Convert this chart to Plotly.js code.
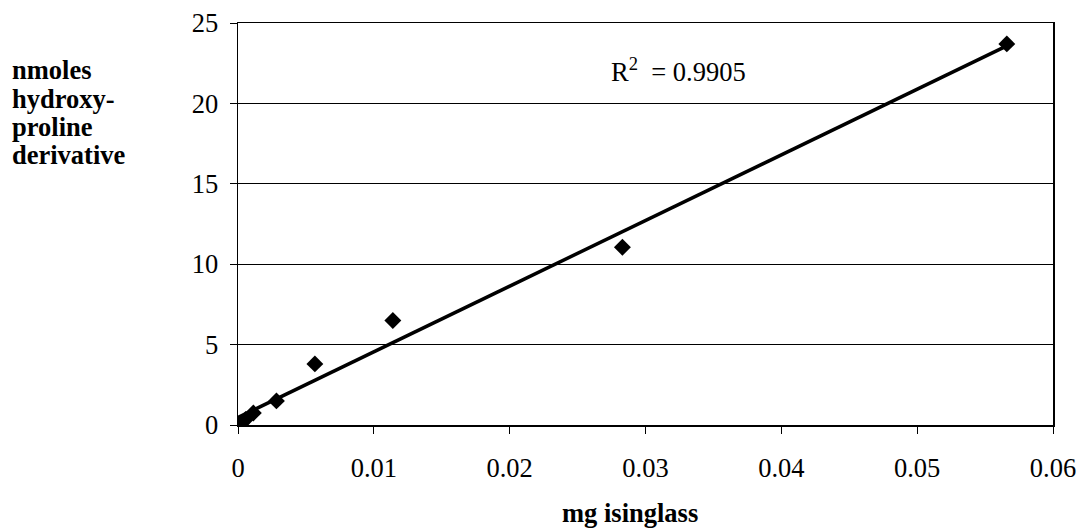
<!DOCTYPE html>
<html><head><meta charset="utf-8">
<script src="https://cdn.plot.ly/plotly-3.0.1.min.js"></script>
<style>
body{margin:0;background:#fff}#c{width:1077px;height:529px}
#c svg text{font-family:"Liberation Serif","Times New Roman","DejaVu Serif",serif !important}
</style>
</head><body><div id="c"></div>
<script>
const mgIsinglass = [0, 0.000283, 0.000566, 0.00113, 0.00283, 0.00566, 0.0114, 0.0283, 0.0566];
const nmolesHyp = [0, 0.15, 0.35, 0.75, 1.5, 3.8, 6.5, 11.05, 23.7];
const xTicks = [0, 0.01, 0.02, 0.03, 0.04, 0.05, 0.06];
const xTickLabels = ['0', '0.01', '0.02', '0.03', '0.04', '0.05', '0.06'];
const yTicks = [0, 5, 10, 15, 20, 25];
const r2Text = 'R<sup>2</sup>  = 0.9905';
const xTitle = 'mg isinglass';
const yTitleLines = ['nmoles', 'hydroxy-', 'proline', 'derivative'];

// least-squares trend line from the data
const n = mgIsinglass.length;
const mx = mgIsinglass.reduce((a,b)=>a+b,0)/n;
const my = nmolesHyp.reduce((a,b)=>a+b,0)/n;
let sxy=0, sxx=0;
for (let i=0;i<n;i++){sxy+=(mgIsinglass[i]-mx)*(nmolesHyp[i]-my);sxx+=(mgIsinglass[i]-mx)**2;}
const slope = sxy/sxx, icpt = my - slope*mx;
const xmin = Math.min(...mgIsinglass), xmax = Math.max(...mgIsinglass);

const FAM = 'Liberation Serif, Times New Roman, serif';
const FS = 26.5;
const f = (s) => ({family: FAM, size: s, color: '#000'});
const traces = [
  {x: [xmin, xmax], y: [icpt+slope*xmin, icpt+slope*xmax], mode: 'lines', type: 'scatter',
   line: {color: '#000', width: 3.5}},
  {x: mgIsinglass, y: nmolesHyp, mode: 'markers', type: 'scatter',
   marker: {symbol: 'diamond', size: 13, color: '#000'}}
];
const T = 23, B = 425, L = 238, R = 1053;
const py = (p) => (B - p) / (B - T);
const px = (p) => (p - L) / (R - L);
const annotations = [
  {xref: 'paper', yref: 'paper', x: px(609), y: py(70), xanchor: 'left', yanchor: 'middle',
   text: r2Text, showarrow: false, font: f(FS)},
  {xref: 'paper', yref: 'paper', x: px(630), y: py(513), xanchor: 'center', yanchor: 'middle',
   text: '<b>' + xTitle + '</b>', showarrow: false, font: f(FS)}
];
const lineY = [70, 98.5, 127, 155];
yTitleLines.forEach((t, i) => annotations.push({
  xref: 'paper', yref: 'paper', x: px(10), y: py(lineY[i]), xanchor: 'left', yanchor: 'middle',
  text: '<b>' + t + '</b>', showarrow: false, font: f(FS)}));

const layout = {
  width: 1077, height: 529, showlegend: false,
  paper_bgcolor: '#fff', plot_bgcolor: '#fff',
  margin: {l: L, r: 1077 - R, t: T, b: 529 - B},
  font: f(FS),
  xaxis: {range: [0, 0.06], tickvals: xTicks, ticktext: xTickLabels, ticks: 'outside', ticklen: 7,
    tickcolor: '#000', showline: true, linecolor: '#000', linewidth: 1.5, mirror: true, showgrid: false,
    zeroline: false, tickfont: f(FS), ticklabelstandoff: 12},
  yaxis: {range: [0, 25], tickvals: yTicks, ticks: 'outside', ticklen: 7, tickcolor: '#000',
    showline: true, linecolor: '#000', linewidth: 1.5, mirror: true, showgrid: true,
    gridcolor: '#000', gridwidth: 1, zeroline: false, tickfont: f(FS), ticklabelstandoff: 6},
  annotations: annotations
};
Plotly.newPlot('c', traces, layout, {displayModeBar: false, staticPlot: true});
</script></body></html>
